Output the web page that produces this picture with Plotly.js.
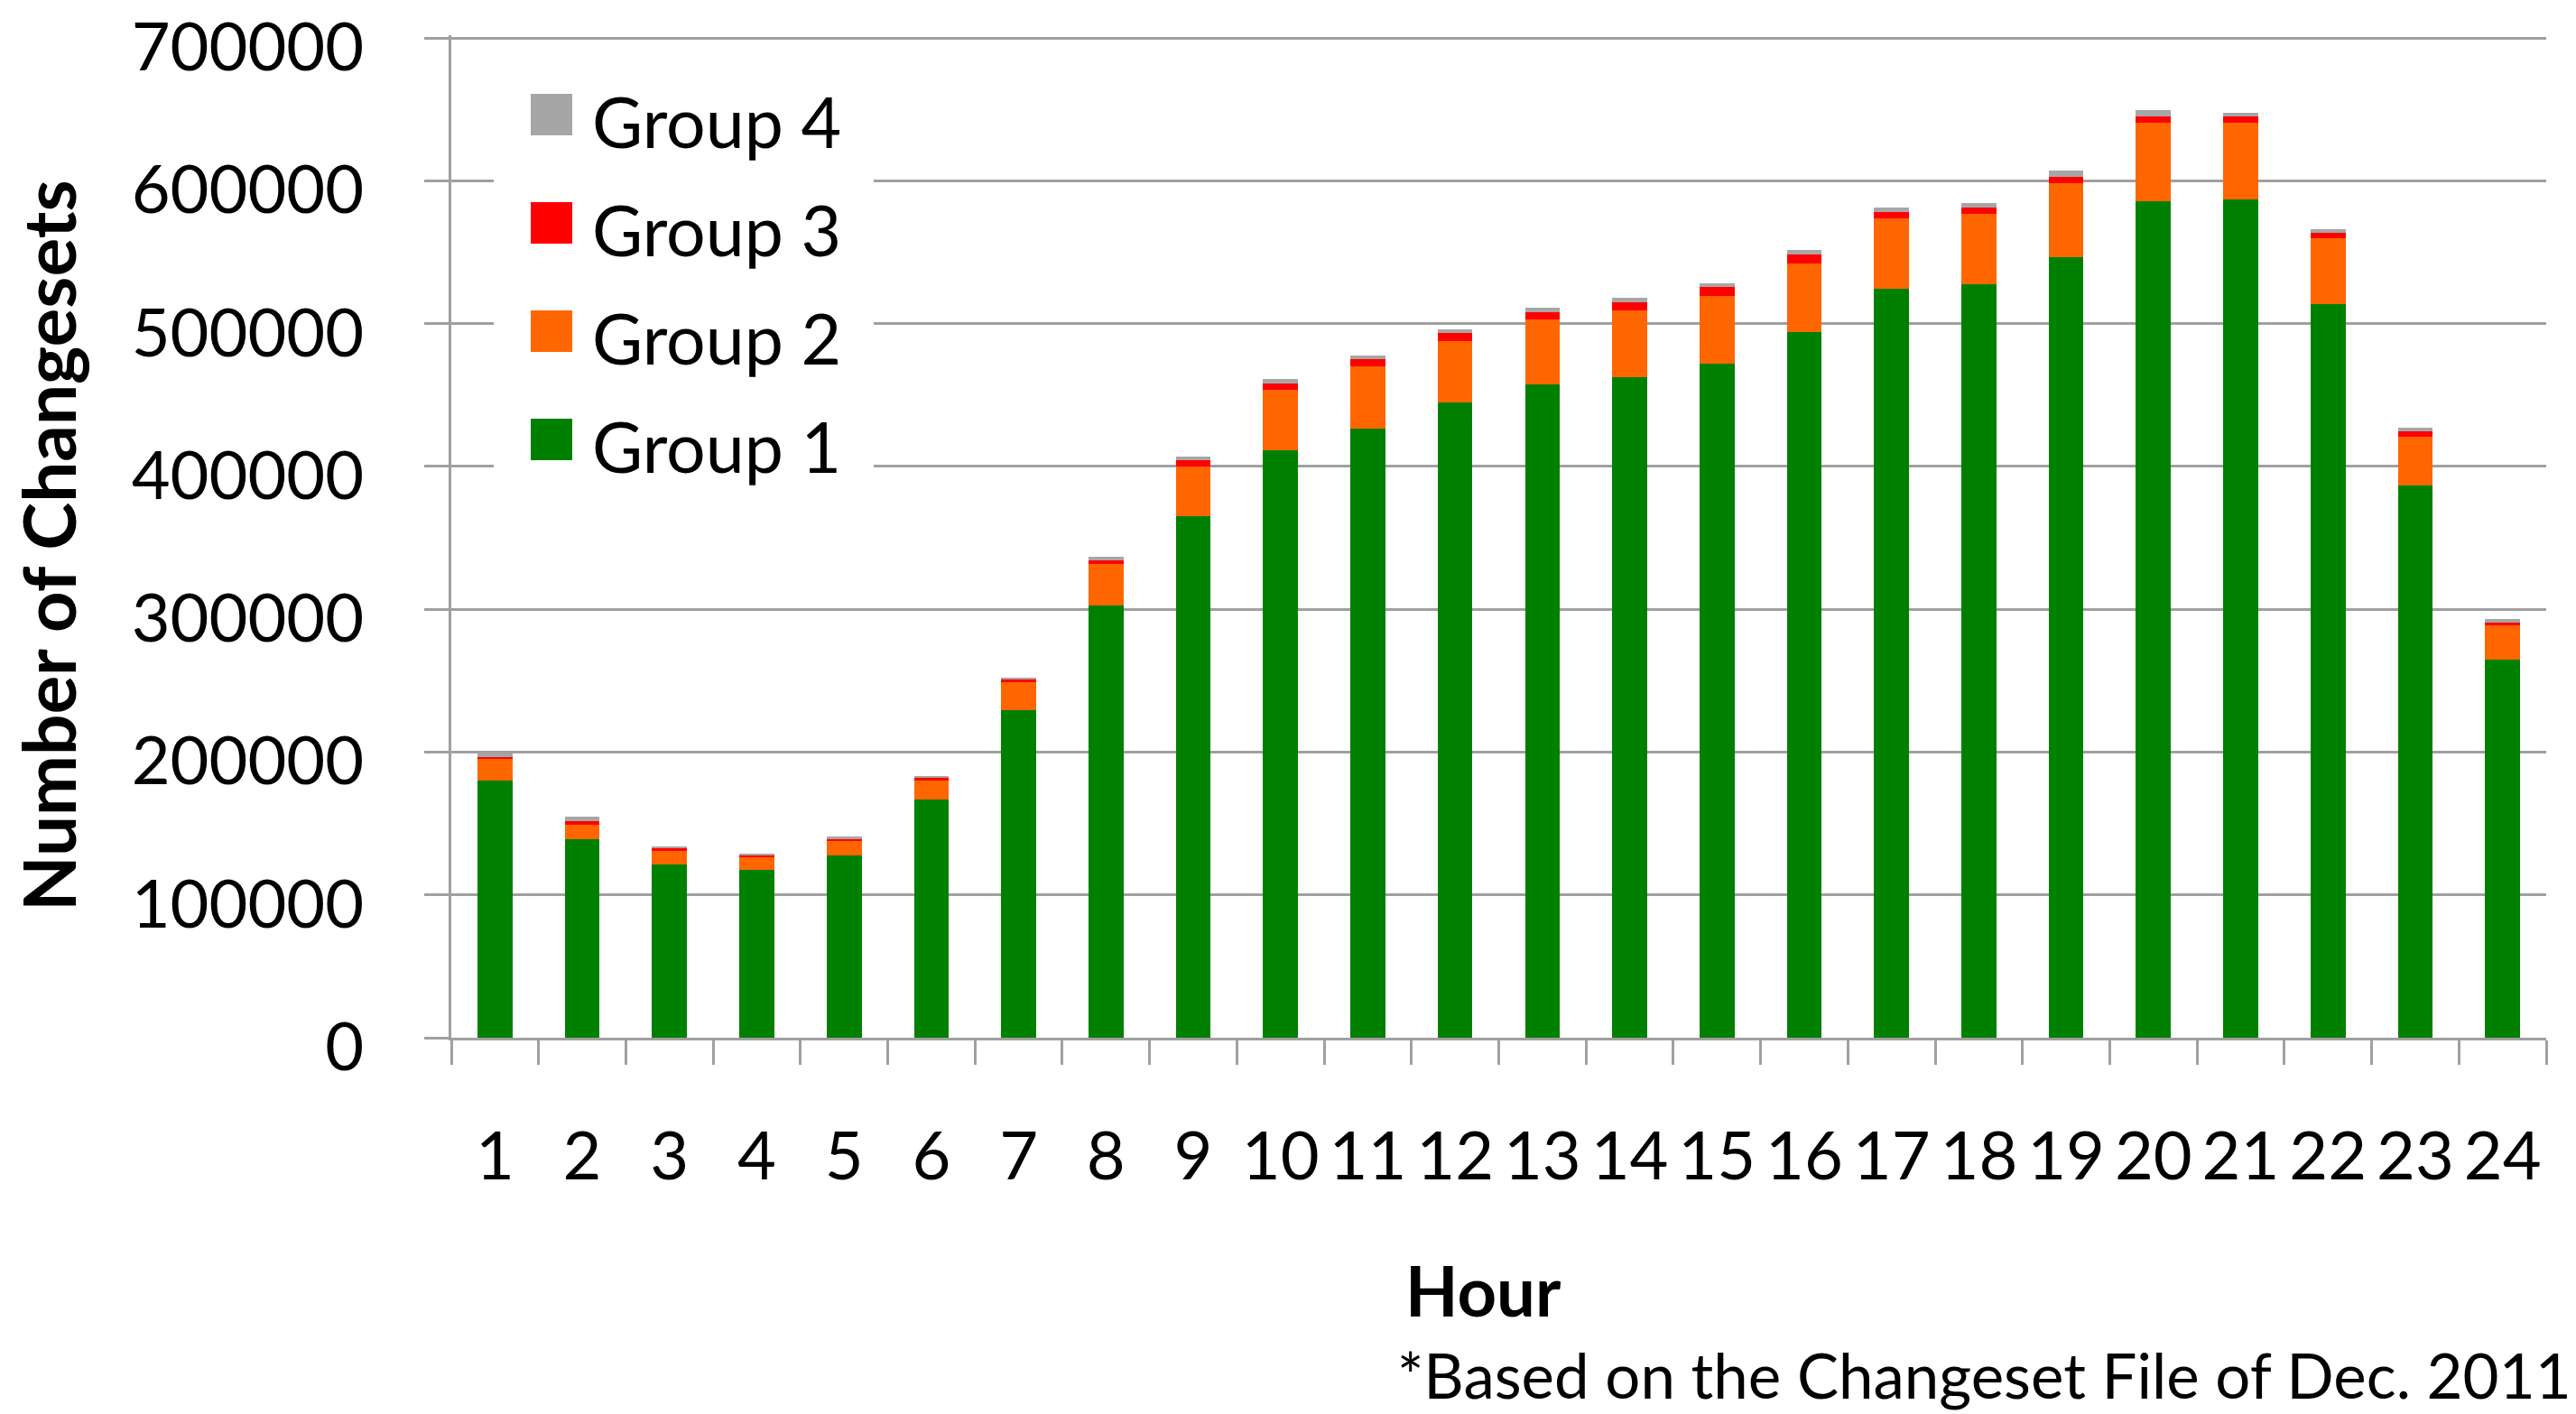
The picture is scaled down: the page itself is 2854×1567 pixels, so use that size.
<!DOCTYPE html>
<html>
<head>
<meta charset="utf-8">
<script src="https://cdn.plot.ly/plotly-3.0.1.min.js"></script>
<style>
html,body{margin:0;padding:0;background:#fff;}
#chart{width:2854px;height:1567px;}
</style>
</head>
<body>
<div id="chart"></div>
<script>
const hours = ['1','2','3','4','5','6','7','8','9','10','11','12','13','14','15','16','17','18','19','20','21','22','23','24'];
const group1 = [180400,139200,121300,117700,127600,167100,229300,302700,365000,411500,426700,444600,457300,462500,472200,494000,524500,527700,546700,585700,586800,514000,387000,264500];
const group2 = [14700,10000,9500,8900,10200,13100,19600,29200,35000,42000,43200,43400,45400,46600,47400,48300,49000,49000,51900,54700,53600,46000,34100,24000];
const group3 = [1500,2700,1700,1200,1400,1700,1700,2500,4600,4700,5300,5300,5100,5600,6100,5900,4800,4800,4300,4800,4800,3400,3400,1900];
const group4 = [2300,3000,1500,1300,1500,1600,1500,2200,2500,3200,2700,2500,3400,3600,2700,3200,2800,2700,4200,4300,2300,2800,2800,2800];
const groupNames = ['Group 1','Group 2','Group 3','Group 4'];
const groupColors = ['#008000','#ff6600','#ff0000','#a6a6a6'];
const yTicks = [0,100000,200000,300000,400000,500000,600000,700000];
const xTitle = 'Hour';
const yTitle = 'Number of Changesets';
const footnote = '*Based on the Changeset File of Dec. 2011';

const series = [group1, group2, group3, group4];
const traces = series.map((vals, i) => ({
  type: 'bar',
  x: hours,
  y: vals,
  name: groupNames[i],
  marker: {color: groupColors[i]},
  showlegend: false
}));

const W = 2854, H = 1567;
const mL = 500, mR = 33, mT = 39, mB = 417;
const pw = W - mL - mR, ph = H - mT - mB;
const px = v => (v - mL) / pw;
const py = v => (H - mB - v) / ph;

const FONT = 'Lato, "Open Sans", sans-serif';
const GRID = '#a0a0a0';

// legend with large swatches, as in the original
const shapes = [{
  type: 'rect', xref: 'paper', yref: 'paper', layer: 'above',
  x0: px(547), x1: px(968), y0: py(62), y1: py(545),
  fillcolor: '#ffffff', line: {width: 0}
}];
const annotations = [];
const legendOrder = [3, 2, 1, 0];
legendOrder.forEach((gi, k) => {
  const cy = 127 + k * 120;
  shapes.push({
    type: 'rect', xref: 'paper', yref: 'paper', layer: 'above',
    x0: px(588), x1: px(634), y0: py(cy - 23), y1: py(cy + 23),
    fillcolor: groupColors[gi], line: {width: 0}
  });
  annotations.push({
    xref: 'paper', yref: 'paper', x: px(655), y: py(cy + 7),
    xanchor: 'left', yanchor: 'middle', showarrow: false, borderpad: 0,
    text: groupNames[gi], font: {family: FONT, size: 77, color: '#000'}
  });
});
// axis titles and footnote
annotations.push({
  xref: 'paper', yref: 'paper', x: px(1643), y: py(1429),
  xanchor: 'center', yanchor: 'middle', showarrow: false, borderpad: 0,
  text: '<b>' + xTitle + '</b>', font: {family: FONT, size: 76, color: '#000'}
});
annotations.push({
  xref: 'paper', yref: 'paper', x: px(53), y: py(605),
  xanchor: 'center', yanchor: 'middle', showarrow: false, borderpad: 0,
  textangle: -90,
  text: '<b>' + yTitle + '</b>', font: {family: FONT, size: 80, color: '#000'}
});
annotations.push({
  xref: 'paper', yref: 'paper', x: px(2850), y: py(1566),
  xanchor: 'right', yanchor: 'bottom', showarrow: false, borderpad: 0,
  text: footnote, font: {family: FONT, size: 69, color: '#000'}
});

const layout = {
  width: W, height: H,
  margin: {l: mL, r: mR, t: mT, b: mB, pad: 0},
  paper_bgcolor: '#fff', plot_bgcolor: '#fff',
  barmode: 'stack',
  bargap: 0.6,
  font: {family: FONT, color: '#000', size: 74},
  xaxis: {
    type: 'category',
    tickson: 'boundaries',
    tickangle: 0,
    ticks: 'outside', ticklen: 27, tickwidth: 3, tickcolor: GRID,
    showline: true, linecolor: GRID, linewidth: 3,
    showgrid: false, zeroline: false,
    tickfont: {family: FONT, size: 74, color: '#000'},
    ticklabelstandoff: 65,
    ticklabeloverflow: 'allow',
    automargin: false
  },
  yaxis: {
    range: [0, 702000],
    tickvals: yTicks,
    ticktext: yTicks.map(v => String(v)),
    ticks: 'outside', ticklen: 27, tickwidth: 3, tickcolor: GRID,
    showline: true, linecolor: GRID, linewidth: 3,
    showgrid: true, gridcolor: GRID, gridwidth: 3,
    zeroline: false,
    tickfont: {family: FONT, size: 74, color: '#000'},
    ticklabelstandoff: 52,
    ticklabelshift: 10,
    ticklabeloverflow: 'allow',
    automargin: false
  },
  shapes: shapes,
  annotations: annotations,
  showlegend: false
};

Plotly.newPlot('chart', traces, layout, {staticPlot: true, displayModeBar: false});
</script>
</body>
</html>
